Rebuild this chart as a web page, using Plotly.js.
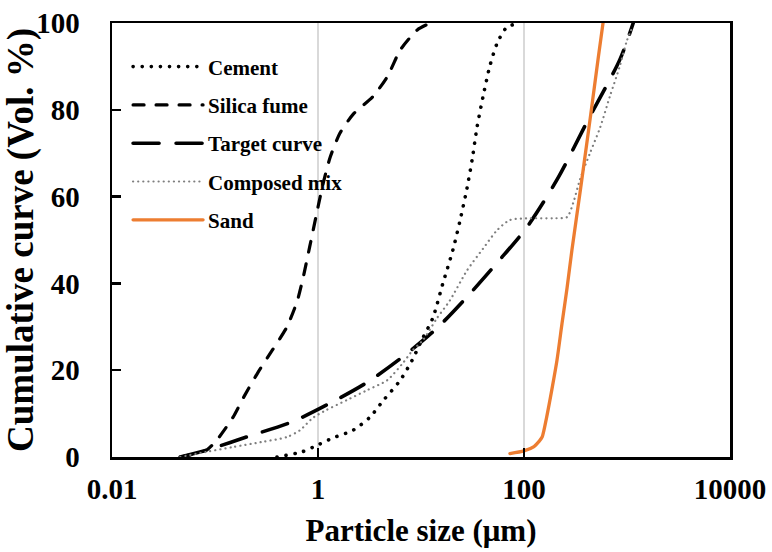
<!DOCTYPE html>
<html>
<head>
<meta charset="utf-8">
<script src="https://cdn.plot.ly/plotly-3.0.1.min.js"></script>
<style>
html,body{margin:0;padding:0;background:#fff;}
#chart{width:772px;height:552px;}
#chart path.js-line{stroke-linecap:round;}
</style>
</head>
<body>
<div id="chart"></div>
<script>
// Particle size (µm) and cumulative volume (%)
const cementX = [0.4, 0.7, 1.0, 1.4, 2.2, 3.2, 4.3, 6.3, 8.2, 10.2, 13, 16.3, 20.4, 24, 28, 31.6, 35, 40, 46.5, 55, 68, 91];
const cementY = [0, 1.2, 2.8, 4.4, 6.2, 9.2, 13, 17.7, 22.3, 27, 32, 40, 47.7, 54.6, 62, 69, 76, 83, 90, 95.4, 99, 100];

const silicaX = [0.046, 0.083, 0.105, 0.15, 0.19, 0.26, 0.36, 0.5, 0.63, 0.72, 0.83, 1.0, 1.12, 1.31, 1.63, 2.2, 3.4, 4.7, 6.3, 9.2, 12.3];
const silicaY = [0, 1.6, 4, 9.2, 13.8, 19.4, 24.6, 30, 36, 41.5, 48.4, 57.6, 63, 69, 74.6, 79, 83, 87.6, 93.8, 98.4, 100];

const targetX = [0.046, 0.083, 0.22, 0.56, 1.31, 3.05, 7, 14.3, 29, 56, 107, 214, 417, 850, 1150];
const targetY = [0, 1.6, 4.9, 8.1, 12.4, 17.3, 23.5, 29.7, 37.3, 45, 53, 64.3, 77.6, 91.5, 100];

const composedX = [0.046, 0.083, 0.15, 0.29, 0.5, 0.67, 0.89, 1.2, 1.9, 3, 4.7, 6.7, 8.3, 10.5, 14.3, 19, 28, 40, 55, 73, 115, 190, 262, 300, 350, 437, 550, 680, 850, 1000, 1150];
const composedY = [0, 1.2, 2.3, 3.5, 4.6, 6.2, 9, 10.8, 13.1, 15.4, 17.7, 21.7, 24.6, 27, 32, 36, 43, 48, 52.3, 54.6, 55, 55, 55.3, 58.5, 64, 70, 76, 83, 90, 96, 99.5];

const sandX = [73, 100, 125, 140, 150, 166, 186, 209, 234, 262, 292, 355, 445, 526, 585];
const sandY = [0.8, 1.4, 2.4, 3.6, 4.6, 9.2, 15.4, 22.3, 30.8, 39, 47.7, 62, 79, 92, 100];

const xTickVals = [0.01, 1, 100, 10000];
const xTickText = ['0.01', '1', '100', '10000'];
const yTickVals = [0, 20, 40, 60, 80, 100];

const FONT = 'Liberation Serif, Times New Roman, serif';

const traces = [
  {name: 'Cement', x: cementX, y: cementY, mode: 'lines', legendgroup: 'a',
   line: {color: '#000000', width: 3.6, dash: '0.1px,9px', shape: 'spline', smoothing: 0.7}},
  {name: 'Silica fume', x: silicaX, y: silicaY, mode: 'lines', legendgroup: 'b',
   line: {color: '#000000', width: 3.2, dash: '11px,12px', shape: 'spline', smoothing: 0.6}},
  {name: 'Target curve', x: targetX, y: targetY, mode: 'lines', legendgroup: 'c',
   line: {color: '#000000', width: 3.6, dash: '26px,17px', shape: 'spline', smoothing: 0.8}},
  {name: 'Composed mix', x: composedX, y: composedY, mode: 'lines', legendgroup: 'd',
   line: {color: '#7f7f7f', width: 2.2, dash: '0.1px,5px', shape: 'spline', smoothing: 0.7}},
  {name: 'Sand', x: sandX, y: sandY, mode: 'lines', legendgroup: 'e',
   line: {color: '#ED7D31', width: 3.3, shape: 'spline', smoothing: 0.7}}
];

const layout = {
  width: 772, height: 552,
  margin: {l: 112, r: 42, t: 23, b: 95, pad: 0},
  paper_bgcolor: '#ffffff', plot_bgcolor: '#ffffff',
  font: {family: FONT, color: '#000000'},
  showlegend: true,
  legend: {
    x: 0.026, y: 0.946, xanchor: 'left', yanchor: 'top',
    bgcolor: 'rgba(0,0,0,0)', borderwidth: 0,
    font: {family: FONT, size: 21, weight: 'bold', color: '#000000'},
    itemwidth: 70, tracegroupgap: 8, traceorder: 'grouped'
  },
  xaxis: {
    type: 'log', range: [-2, 4],
    tickmode: 'array', tickvals: xTickVals, ticktext: xTickText,
    ticks: 'inside', ticklen: 9, tickwidth: 2.5, tickcolor: '#000',
    showline: true, linecolor: '#000', linewidth: 2.5, mirror: true,
    showgrid: true, gridcolor: '#d9d9d9', gridwidth: 1.5, zeroline: false,
    tickfont: {family: FONT, size: 29, weight: 'bold', color: '#000'},
    ticklabelstandoff: 5,
    title: {text: 'Particle size (μm)', font: {family: FONT, size: 31, weight: 'bold', color: '#000'}, standoff: 15}
  },
  yaxis: {
    range: [0, 100], tickmode: 'array', tickvals: yTickVals,
    ticks: 'inside', ticklen: 9, tickwidth: 2.5, tickcolor: '#000',
    showline: true, linecolor: '#000', linewidth: 2.5, mirror: true,
    showgrid: false, zeroline: false,
    tickfont: {family: FONT, size: 29, weight: 'bold', color: '#000'},
    ticklabelstandoff: 24,
    title: {text: 'Cumulative curve (Vol. %)', font: {family: FONT, size: 37, weight: 'bold', color: '#000'}, standoff: 5}
  }
};

Plotly.newPlot('chart', traces, layout, {staticPlot: true, displayModeBar: false});
</script>
</body>
</html>
